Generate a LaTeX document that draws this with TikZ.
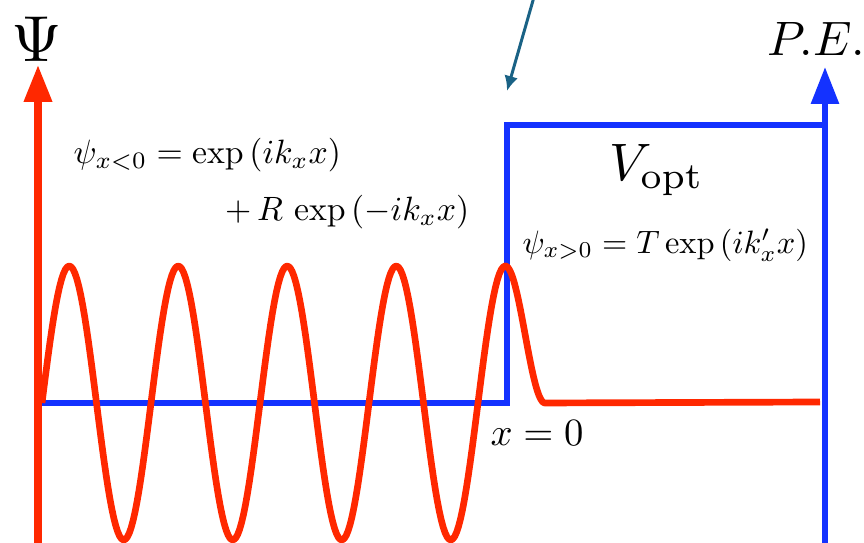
\documentclass[tikz,border=0pt]{standalone}
\usetikzlibrary{arrows.meta}
\definecolor{wavered}{RGB}{255,40,0}
\definecolor{potblue}{RGB}{20,50,255}
\definecolor{pointer}{RGB}{26,98,133}
\begin{document}
\begin{tikzpicture}[>=latex, line width=3.4pt,
    axis/.style={-{Triangle[width=0.54cm,length=0.74cm]}},
    eq/.style={scale=1.92, inner sep=0pt}]
    \useasboundingbox (0,0) rectangle (17.28,10.86);

    % Axes: wave function (left) and potential energy (right)
    \coordinate (psibot) at (0.76,0);
    \coordinate (psitop) at (0.76,9.56);
    \coordinate (pebot) at (16.5,0);
    \coordinate (petop) at (16.5,9.52);
    \draw[axis, wavered, line width=4pt] (psibot) -- (psitop);
    \draw[axis, potblue] (pebot) -- (petop);
    \node[scale=3.7] (psi) at (0.74,10.08) {$\Psi$};
    \node[scale=2.75] (pe) at (16.33,10.08) {$P.E.$};

    % Step potential
    \coordinate (v0) at (0.84,2.8);
    \coordinate (v1) at (10.14,2.8);
    \coordinate (v2) at (10.14,8.36);
    \coordinate (v3) at (16.5,8.36);
    \draw[potblue] (v0) -- (v1) -- (v2) -- (v3);

    % Pointer to the step
    \coordinate (ptrstart) at (10.68,10.92);
    \coordinate (ptrend) at (10.14,9.04);
    \draw[pointer, line width=1.7pt, -{Latex[length=0.3cm,width=0.28cm]}] (ptrstart) -- (ptrend);

    % Wave function
    \draw[wavered, line width=3.8pt, line join=round]
        plot[domain=0.84:10.105, samples=240] (\x, {2.8+2.74*sin(360*(\x-0.84)/2.18)})
        -- plot[domain=10.105:10.9, samples=40] (\x, {2.8+1.37*(1+cos(180*(\x-10.105)/0.795))})
        -- (16.4,2.82);

    % Labels
    \node[eq, anchor=west] (psileft) at (1.36,7.76) {$\psi_{x<0} = \exp\left(ik_x x\right)$};
    \node[eq, anchor=east] (psirefl) at (9.5,6.62) {$+\,R\,\exp\left(-ik_x x\right)$};
    \node[eq, scale=0.96, anchor=west] (psiright) at (10.34,5.96) {$\psi_{x>0} = T\exp\left(ik'_x x\right)$};
    \node[scale=3] (vopt) at (13.14,7.46) {$V_{\mathrm{opt}}$};
    \node[scale=2.2] (xzero) at (10.74,2.2) {$x=0$};
\end{tikzpicture}
\end{document}
